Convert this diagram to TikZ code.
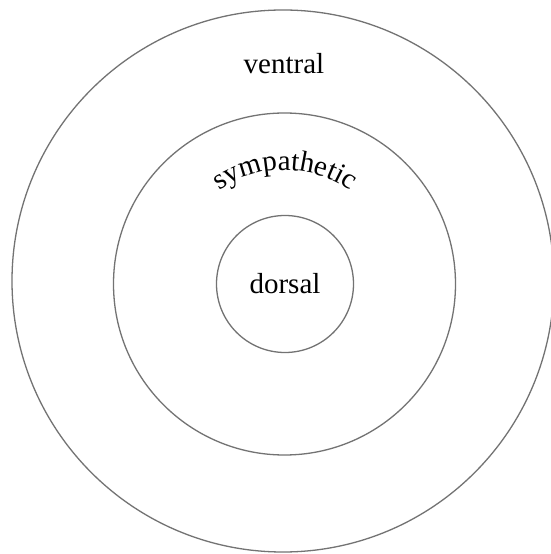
\documentclass[tikz,border=0pt]{standalone}
\usepackage{fontspec}
\setmainfont{Liberation Serif}
\usetikzlibrary{decorations.text}
\begin{document}
\begin{tikzpicture}[x=1pt,y=1pt,
  ring/.style={circle, draw=black!55, line width=1.3pt, inner sep=0pt},
  lbl/.style={font=\fontsize{29}{32}\selectfont, text=black, inner sep=0pt, anchor=base}]
\useasboundingbox (0,0) rectangle (550,554);
\fill[white] (0,0) rectangle (550,554);
\node[ring, minimum size=542pt] (outer) at (283,273) {};
\node[ring, minimum size=342pt] (middle) at (284.5,270) {};
\node[ring, minimum size=137pt] (inner) at (285,270) {};
\node[lbl] (dorsal) at (285,260) {dorsal};
\node[lbl] (ventral) at (284,480) {ventral};
\path[decorate, decoration={text along path, text align=center,
  text={|\fontsize{29}{32}\selectfont|sympathetic}}]
  (285,270) ++(155:114) arc[start angle=155, end angle=25, radius=114];
\end{tikzpicture}
\end{document}
